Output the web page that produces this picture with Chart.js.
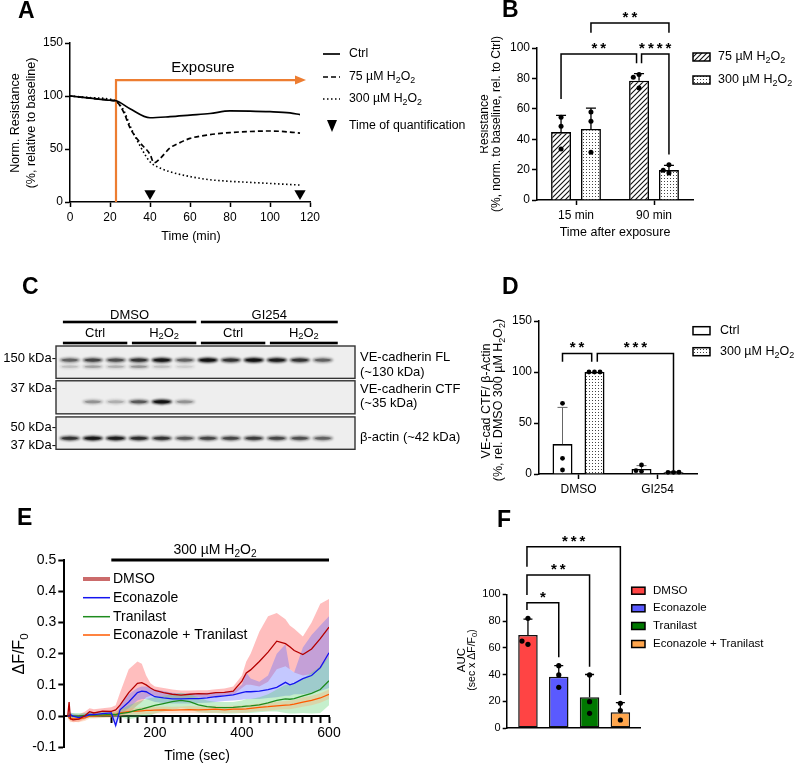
<!DOCTYPE html>
<html>
<head>
<meta charset="utf-8">
<script src="https://cdn.jsdelivr.net/npm/chart.js@4.4.0/dist/chart.umd.min.js"></script>
<style>
  body { margin: 0; background: #fff; }
  #fig { position: relative; width: 798px; height: 767px; overflow: hidden; background: #fff; }
  #fig canvas { position: absolute; }
</style>
</head>
<body>
<div id="fig">
  <canvas id="cA" width="480" height="245" style="left:0;top:0"></canvas>
  <canvas id="cB" width="318" height="245" style="left:480px;top:0"></canvas>
  <canvas id="cC" width="480" height="200" style="left:0;top:270px"></canvas>
  <canvas id="cD" width="318" height="230" style="left:480px;top:270px"></canvas>
  <canvas id="cE" width="400" height="267" style="left:0;top:500px"></canvas>
  <canvas id="cF" width="398" height="267" style="left:400px;top:500px"></canvas>
</div>
<script>
// ---------- data ----------
// A: resistance over time
const aCtrlTime = [0, 10, 20, 23, 30, 40, 50, 60, 70, 80, 90, 100, 110, 115];
const aCtrl = [100, 98, 96, 95.5, 88, 79.5, 80.5, 82, 83.5, 86, 85.8, 85.2, 84, 82.5];
const a75Time = [0, 10, 20, 23, 27, 30, 35, 40, 42, 45, 50, 55, 60, 70, 80, 90, 100, 110, 115];
const a75 = [100, 98, 96, 95, 84, 70, 56, 45, 37, 41, 51, 56, 60, 63.5, 65.5, 66.5, 67, 66, 65];
const a300Time = [0, 10, 20, 23, 27, 30, 35, 40, 45, 50, 60, 70, 80, 90, 100, 110, 115];
const a300 = [100, 98.5, 97, 95, 86, 72, 53, 38, 32, 28.5, 24, 21, 19.5, 18.5, 17.5, 16.5, 16];
const aQuantTimes = [40, 115];
const aExposureStart = 23;

// B: resistance after exposure
const bGroups = ['15 min', '90 min'];
const b75 = [44.7, 78.5];
const b300 = [46.7, 19.7];
const b75Sd = [11, 4.6];
const b300Sd = [13.8, 3.1];
const b75Pts = [[54.4, 48.5, 33.6], [82.5, 80.7, 73.7]];
const b300Pts = [[57.9, 51.8, 31.4], [23.2, 17.8, 19.5]];

// C: western blot band intensities per lane (0..1)
const cLanes = ['DMSO Ctrl 1', 'DMSO Ctrl 2', 'DMSO Ctrl 3', 'DMSO H2O2 1', 'DMSO H2O2 2', 'DMSO H2O2 3',
                'GI254 Ctrl 1', 'GI254 Ctrl 2', 'GI254 Ctrl 3', 'GI254 H2O2 1', 'GI254 H2O2 2', 'GI254 H2O2 3'];
const cFl = [0.5, 0.65, 0.6, 0.75, 0.95, 0.5, 1.0, 0.75, 1.0, 0.9, 0.75, 0.5];
const cFlLow = [0.15, 0.25, 0.2, 0.3, 0.15, 0.1, 0, 0, 0, 0, 0, 0];
const cCtf = [0, 0.3, 0.2, 0.55, 1.0, 0.3, 0, 0, 0, 0, 0, 0];
const cActin = [0.75, 0.95, 0.9, 0.8, 0.75, 0.55, 0.65, 0.65, 0.7, 0.65, 0.6, 0.5];

// D: VE-cad CTF / beta-actin
const dGroups = ['DMSO', 'GI254'];
const dCtrl = [29.3, 4.9];
const d300 = [100, 1.6];
const dCtrlSd = [36, 3.3];
const d300Sd = [0, 0.4];
const dCtrlPts = [[69.3, 15.4, 3.9], [8.8, 2.6, 3.3]];
const d300Pts = [[100, 100, 100], [1.6, 1.6, 1.8]];

// E: calcium traces (mean and band limits)
const eTime = [0, 3, 6, 12, 25, 40, 50, 60, 80, 100, 110, 120, 140, 160, 170, 180, 190, 200, 220, 240, 260, 280, 300, 320, 340, 360, 380, 400, 410, 420, 440, 460, 480, 500, 510, 520, 540, 560, 580, 600];
const eDmso = [0.000, 0.045, -0.008, -0.012, -0.010, 0.002, 0.014, 0.010, 0.016, 0.015, 0.020, 0.035, 0.075, 0.105, 0.107, 0.100, 0.090, 0.082, 0.075, 0.070, 0.067, 0.070, 0.072, 0.071, 0.075, 0.076, 0.080, 0.112, 0.138, 0.148, 0.175, 0.205, 0.240, 0.232, 0.222, 0.210, 0.197, 0.215, 0.248, 0.285];
const eDmsoHi = [0.010, 0.050, 0.000, 0.005, 0.005, 0.015, 0.025, 0.022, 0.025, 0.028, 0.035, 0.075, 0.150, 0.175, 0.168, 0.130, 0.105, 0.095, 0.090, 0.085, 0.082, 0.082, 0.083, 0.083, 0.086, 0.088, 0.095, 0.130, 0.175, 0.200, 0.270, 0.320, 0.330, 0.310, 0.290, 0.280, 0.255, 0.300, 0.360, 0.375];
const eDmsoLo = [-0.010, 0.035, -0.015, -0.020, -0.018, -0.010, 0.000, 0.000, 0.005, 0.005, 0.005, 0.000, 0.010, 0.035, 0.045, 0.060, 0.065, 0.065, 0.060, 0.058, 0.056, 0.058, 0.060, 0.060, 0.062, 0.065, 0.068, 0.090, 0.100, 0.100, 0.095, 0.110, 0.150, 0.160, 0.150, 0.140, 0.130, 0.135, 0.150, 0.190];
const eEcon = [0.000, 0.000, 0.005, 0.000, -0.005, 0.000, 0.005, 0.005, 0.008, 0.010, -0.030, 0.020, 0.045, 0.075, 0.080, 0.078, 0.070, 0.062, 0.058, 0.055, 0.055, 0.056, 0.056, 0.058, 0.062, 0.065, 0.068, 0.075, 0.078, 0.078, 0.080, 0.085, 0.092, 0.108, 0.100, 0.105, 0.120, 0.130, 0.155, 0.203];
const eEconHi = [0.008, 0.008, 0.012, 0.008, 0.004, 0.008, 0.012, 0.012, 0.015, 0.015, 0.000, 0.035, 0.070, 0.090, 0.095, 0.095, 0.090, 0.085, 0.080, 0.075, 0.072, 0.072, 0.072, 0.075, 0.075, 0.078, 0.080, 0.100, 0.140, 0.120, 0.110, 0.130, 0.200, 0.230, 0.150, 0.140, 0.220, 0.260, 0.290, 0.320];
const eEconLo = [-0.008, -0.008, -0.004, -0.008, -0.012, -0.008, -0.003, -0.003, 0.000, 0.002, -0.040, 0.005, 0.025, 0.050, 0.055, 0.055, 0.050, 0.045, 0.042, 0.040, 0.040, 0.040, 0.042, 0.043, 0.045, 0.048, 0.050, 0.052, 0.055, 0.055, 0.055, 0.058, 0.060, 0.065, 0.065, 0.070, 0.070, 0.075, 0.080, 0.090];
const eTran = [0.000, 0.002, 0.002, 0.000, 0.000, 0.002, 0.003, 0.003, 0.004, 0.005, 0.005, 0.008, 0.012, 0.020, 0.022, 0.026, 0.030, 0.034, 0.040, 0.046, 0.050, 0.046, 0.036, 0.030, 0.028, 0.027, 0.028, 0.030, 0.032, 0.033, 0.036, 0.042, 0.050, 0.055, 0.054, 0.056, 0.065, 0.073, 0.085, 0.113];
const eTranHi = [0.010, 0.010, 0.010, 0.010, 0.010, 0.010, 0.012, 0.012, 0.012, 0.012, 0.015, 0.020, 0.035, 0.045, 0.050, 0.055, 0.058, 0.060, 0.065, 0.070, 0.075, 0.070, 0.060, 0.050, 0.045, 0.045, 0.045, 0.050, 0.055, 0.055, 0.060, 0.070, 0.085, 0.100, 0.100, 0.105, 0.120, 0.140, 0.160, 0.190];
const eTranLo = [-0.010, -0.008, -0.008, -0.010, -0.010, -0.008, -0.006, -0.006, -0.004, -0.002, -0.003, -0.004, -0.010, -0.005, 0.000, 0.000, 0.002, 0.008, 0.015, 0.020, 0.025, 0.022, 0.012, 0.010, 0.010, 0.008, 0.008, 0.010, 0.010, 0.010, 0.012, 0.015, 0.015, 0.010, 0.008, 0.008, 0.010, 0.008, 0.010, 0.035];
const eComb = [0.000, -0.005, -0.010, -0.008, -0.010, -0.005, 0.000, 0.000, 0.002, 0.003, 0.005, 0.010, 0.014, 0.016, 0.017, 0.018, 0.018, 0.019, 0.020, 0.019, 0.020, 0.021, 0.020, 0.021, 0.022, 0.020, 0.022, 0.022, 0.023, 0.025, 0.028, 0.030, 0.033, 0.035, 0.036, 0.038, 0.045, 0.050, 0.058, 0.070];
const eCombHi = [0.008, 0.005, 0.002, 0.003, 0.002, 0.005, 0.008, 0.008, 0.010, 0.012, 0.015, 0.020, 0.024, 0.027, 0.028, 0.029, 0.029, 0.030, 0.031, 0.030, 0.031, 0.032, 0.031, 0.032, 0.033, 0.031, 0.033, 0.034, 0.035, 0.037, 0.040, 0.043, 0.046, 0.048, 0.050, 0.052, 0.060, 0.065, 0.073, 0.085];
const eCombLo = [-0.008, -0.015, -0.020, -0.018, -0.020, -0.015, -0.008, -0.008, -0.006, -0.005, -0.004, 0.000, 0.004, 0.005, 0.006, 0.007, 0.007, 0.008, 0.009, 0.008, 0.009, 0.010, 0.009, 0.010, 0.011, 0.009, 0.011, 0.010, 0.011, 0.013, 0.016, 0.017, 0.020, 0.022, 0.022, 0.024, 0.030, 0.035, 0.043, 0.055];
const eTickTimes = [100, 120, 140, 160, 180, 200, 220, 240, 260, 280, 300, 320, 340, 360, 380, 400, 420, 440, 460, 480, 500, 520, 540, 560, 580, 600];
const eLabelTimes = [200, 400, 600];
const eExposureStart = 100;

// F: AUC
const fGroups = ['DMSO', 'Econazole', 'Tranilast', 'Econazole + Tranilast'];
const fAuc = [69.6, 38.4, 23, 11.7];
const fSd = [11.9, 8.2, 17, 7.3];
const fPts = [[82, 62.6, 65], [46.6, 39.7, 30.4], [39.7, 19.7, 11], [18.5, 13, 6]];

// ---------- helpers ----------
const FONT = "'Liberation Sans', Arial, Helvetica, sans-serif";
const ORANGE = '#ed7d31';
Chart.defaults.font.family = FONT;
Chart.defaults.color = '#000';

const zip = (xs, ys) => xs.map((x, i) => ({x, y: ys[i]}));
const fixW = w => s => { s.width = w; };
const fixH = h => s => { s.height = h; };

// drop undefined keys so they don't override Chart.js defaults
function clean(o) {
  Object.keys(o).forEach(k => {
    if (o[k] === undefined) delete o[k];
    else if (o[k] && typeof o[k] === 'object' && o[k].constructor === Object) clean(o[k]);
  });
  return o;
}

// text with single-character subscripts written as _2
function rich(ctx, str, x, y, size, o = {}) {
  const wt = o.bold ? 'bold ' : '';
  const parts = [];
  for (let i = 0; i < str.length;) {
    if (str[i] === '_') { parts.push({t: str[i + 1], s: true}); i += 2; }
    else { let j = i; while (j < str.length && str[j] !== '_') j++; parts.push({t: str.slice(i, j), s: false}); i = j; }
  }
  let w = 0;
  parts.forEach(p => { ctx.font = wt + (p.s ? size * 0.72 : size) + 'px ' + FONT; p.w = ctx.measureText(p.t).width; w += p.w; });
  let cx = o.align === 'center' ? x - w / 2 : o.align === 'right' ? x - w : x;
  ctx.save();
  ctx.fillStyle = o.color || '#000';
  ctx.textAlign = 'left';
  ctx.textBaseline = 'middle';
  parts.forEach(p => {
    ctx.font = wt + (p.s ? size * 0.72 : size) + 'px ' + FONT;
    ctx.fillText(p.t, cx, p.s ? y + size * 0.3 : y);
    cx += p.w;
  });
  ctx.restore();
}
function vrich(ctx, str, x, y, size, o = {}) {
  ctx.save();
  ctx.translate(x, y);
  ctx.rotate(-Math.PI / 2);
  rich(ctx, str, 0, 0, size, Object.assign({align: 'center'}, o));
  ctx.restore();
}

function axisOpts(o) {
  return clean({
    type: o.type,
    min: o.min, max: o.max,
    offset: o.offset,
    position: o.position,
    afterFit: o.afterFit,
    afterBuildTicks: o.afterBuildTicks,
    border: {color: '#000', width: o.bw || 1.5},
    grid: {display: o.grid !== false, drawOnChartArea: false, offset: false, tickLength: o.tl || 5,
           tickWidth: o.bw || 1.5, tickColor: '#000', color: '#000'},
    ticks: {display: o.ticks !== false, color: '#000', font: {size: o.fs || 12}, padding: o.pad === undefined ? 3 : o.pad,
            stepSize: o.step, autoSkip: false, maxRotation: 0, minRotation: 0, callback: o.cb}
  });
}

function hatchPattern(ctx) {
  const c = document.createElement('canvas');
  c.width = 5; c.height = 5;
  const g = c.getContext('2d');
  g.fillStyle = '#fff'; g.fillRect(0, 0, 5, 5);
  g.strokeStyle = '#111'; g.lineWidth = 1.1;
  g.beginPath();
  g.moveTo(-1, 6); g.lineTo(6, -1);
  g.moveTo(-1, 1); g.lineTo(1, -1);
  g.moveTo(4, 6); g.lineTo(6, 4);
  g.stroke();
  return ctx.createPattern(c, 'repeat');
}
function dotPattern(ctx) {
  const c = document.createElement('canvas');
  c.width = 3; c.height = 3;
  const g = c.getContext('2d');
  g.fillStyle = '#fff'; g.fillRect(0, 0, 3, 3);
  g.fillStyle = '#444'; g.fillRect(1, 1, 1, 1);
  return ctx.createPattern(c, 'repeat');
}

// error bars (upward SD) and individual points
function errPlugin(o) {
  return {
    id: 'errdots',
    afterDatasetsDraw(chart) {
      const {ctx} = chart, y = chart.scales.y;
      chart.data.datasets.forEach((ds, di) => {
        if (!ds.sd) return;
        const meta = chart.getDatasetMeta(di);
        meta.data.forEach((bar, i) => {
          const m = meta.controller.getParsed(i).y;
          const x = bar.x, ym = y.getPixelForValue(m), ye = y.getPixelForValue(m + ds.sd[i]);
          ctx.save();
          ctx.strokeStyle = ds.errColor || '#000';
          ctx.lineWidth = ds.errWidth || o.lw;
          if (ds.sd[i] > 0) {
            ctx.beginPath();
            ctx.moveTo(x, ym); ctx.lineTo(x, ye);
            ctx.moveTo(x - o.cap / 2, ye); ctx.lineTo(x + o.cap / 2, ye);
            ctx.stroke();
          }
          ctx.fillStyle = '#000';
          const placed = [];
          ds.pts[i].forEach(v => {
            const py = y.getPixelForValue(v);
            let dx = 0;
            for (const k of [0, -1, 1, -2, 2]) {
              dx = k * o.r * 2.3;
              if (placed.every(p => Math.hypot(p[0] - dx, p[1] - py) >= o.r * 2)) break;
            }
            placed.push([dx, py]);
            ctx.beginPath(); ctx.arc(x + dx, py, o.r, 0, Math.PI * 2); ctx.fill();
          });
          ctx.restore();
        });
      });
    }
  };
}

// significance brackets
function bracketPlugin(items, size) {
  return {
    id: 'brackets',
    afterDraw(chart) {
      const {ctx} = chart, y = chart.scales.y;
      const px = ([di, i, sh]) => chart.getDatasetMeta(di).data[i].x + (sh || 0);
      ctx.save();
      ctx.strokeStyle = '#000'; ctx.lineWidth = 1.5; ctx.lineJoin = 'miter';
      items.forEach(b => {
        const xa = px(b.a), xb = px(b.b), yl = y.getPixelForValue(b.level);
        ctx.beginPath();
        ctx.moveTo(xa, y.getPixelForValue(b.legs[0]));
        ctx.lineTo(xa, yl); ctx.lineTo(xb, yl);
        ctx.lineTo(xb, y.getPixelForValue(b.legs[1]));
        ctx.stroke();
        ctx.font = 'bold ' + size + 'px ' + FONT;
        ctx.letterSpacing = '3px';
        ctx.textAlign = 'center'; ctx.textBaseline = 'alphabetic'; ctx.fillStyle = '#000';
        ctx.fillText(b.label, (xa + xb) / 2 + 1.5, yl - 1);
        ctx.letterSpacing = '0px';
      });
      ctx.restore();
    }
  };
}

function legendBox(ctx, x, y, w, h, fill) {
  ctx.save();
  ctx.fillStyle = fill;
  ctx.fillRect(x, y - h / 2, w, h);
  ctx.strokeStyle = '#000'; ctx.lineWidth = 1.5;
  ctx.strokeRect(x, y - h / 2, w, h);
  ctx.restore();
}

const base = {responsive: false, animation: false, events: [],
  plugins: {legend: {display: false}, tooltip: {enabled: false}}};

// ---------- A ----------
new Chart(document.getElementById('cA'), {
  type: 'line',
  data: {datasets: [
    {label: 'Ctrl', data: zip(aCtrlTime, aCtrl), borderColor: '#000', borderWidth: 1.7, pointRadius: 0, cubicInterpolationMode: 'monotone', fill: false},
    {label: '75 µM H_2O_2', data: zip(a75Time, a75), borderColor: '#000', borderWidth: 1.7, borderDash: [5, 3], pointRadius: 0, cubicInterpolationMode: 'monotone', fill: false},
    {label: '300 µM H_2O_2', data: zip(a300Time, a300), borderColor: '#000', borderWidth: 1.6, borderDash: [1.5, 2.5], pointRadius: 0, cubicInterpolationMode: 'monotone', fill: false},
    {label: 'Time of quantification', data: aQuantTimes.map(t => ({x: t, y: 8})), showLine: false, pointStyle: 'triangle', rotation: 180,
     pointRadius: 6.5, pointBackgroundColor: '#000', pointBorderColor: '#000', pointBorderWidth: 0, borderColor: '#000', backgroundColor: '#000'}
  ]},
  options: Object.assign({}, base, {
    layout: {padding: {left: 0, top: 43, right: 170, bottom: 0}},
    scales: {
      x: axisOpts({type: 'linear', min: 0, max: 120, step: 20, afterFit: fixH(43), pad: 3}),
      y: axisOpts({type: 'linear', min: 0, max: 150, step: 50, afterFit: fixW(70), pad: 2})
    }
  }),
  plugins: [{
    id: 'aDeco',
    beforeDatasetsDraw(chart) {
      const {ctx, scales: {x, y}} = chart;
      const x0 = x.getPixelForValue(aExposureStart), y0 = y.getPixelForValue(0);
      const y1 = y.getPixelForValue(115), x1 = x.getPixelForValue(116.5);
      ctx.save();
      ctx.strokeStyle = ORANGE; ctx.lineWidth = 2.2;
      ctx.beginPath(); ctx.moveTo(x0, y0); ctx.lineTo(x0, y1); ctx.lineTo(x1 - 6, y1); ctx.stroke();
      ctx.fillStyle = ORANGE;
      ctx.beginPath(); ctx.moveTo(x1 + 3, y1); ctx.lineTo(x1 - 8, y1 - 4.5); ctx.lineTo(x1 - 8, y1 + 4.5); ctx.closePath(); ctx.fill();
      ctx.restore();
      rich(ctx, 'Exposure', x.getPixelForValue(66.5), y1 - 12, 15, {align: 'center'});
    },
    afterDraw(chart) {
      const {ctx} = chart;
      const rows = [54, 77, 99, 126];
      chart.data.datasets.forEach((ds, i) => {
        ctx.save();
        if (i < 3) {
          ctx.strokeStyle = '#000'; ctx.lineWidth = ds.borderWidth;
          ctx.setLineDash(ds.borderDash || []);
          ctx.beginPath(); ctx.moveTo(323, rows[i]); ctx.lineTo(340, rows[i]); ctx.stroke();
        } else {
          ctx.fillStyle = '#000';
          ctx.beginPath(); ctx.moveTo(327, rows[i] - 6); ctx.lineTo(337, rows[i] - 6); ctx.lineTo(332, rows[i] + 6); ctx.closePath(); ctx.fill();
        }
        ctx.restore();
        rich(ctx, ds.label, 349, rows[i], 12.3);
      });
      vrich(ctx, 'Norm. Resistance', 15.5, 123, 12.5);
      vrich(ctx, '(%, relative to baseline)', 31.5, 123, 12.5);
      rich(ctx, 'Time (min)', 191, 237, 12.5, {align: 'center'});
      rich(ctx, 'A', 18, 12, 23, {bold: true});
    }
  }]
});

// ---------- B ----------
const ctxB = document.getElementById('cB').getContext('2d');
const hatchB = hatchPattern(ctxB), dotsB = dotPattern(ctxB);
new Chart(ctxB, {
  type: 'bar',
  data: {labels: bGroups, datasets: [
    {label: '75 µM H_2O_2', data: b75, sd: b75Sd, pts: b75Pts, backgroundColor: hatchB, borderColor: '#000', borderWidth: 1.6,
     categoryPercentage: 0.767, barPercentage: 0.667},
    {label: '300 µM H_2O_2', data: b300, sd: b300Sd, pts: b300Pts, backgroundColor: dotsB, borderColor: '#000', borderWidth: 1.6,
     categoryPercentage: 0.767, barPercentage: 0.667}
  ]},
  options: Object.assign({}, base, {
    layout: {padding: {left: 0, top: 48, right: 105, bottom: 0}},
    scales: {
      x: axisOpts({type: 'category', offset: true, afterFit: fixH(45), pad: 3}),
      y: axisOpts({type: 'linear', min: 0, max: 100, step: 20, afterFit: fixW(57), pad: 2})
    }
  }),
  plugins: [
    errPlugin({cap: 10, r: 2.5, lw: 1.3}),
    bracketPlugin([
      {a: [0, 0, 0], b: [0, 1, -2.5], level: 96, legs: [66.5, 90], label: '**'},
      {a: [0, 1, 2.5], b: [1, 1, 0], level: 96, legs: [90, 30], label: '****'},
      {a: [1, 0, 0], b: [1, 1, 0], level: 116.5, legs: [110, 110], label: '**'}
    ], 15),
    {
      id: 'bDeco',
      afterDraw(chart) {
        const {ctx} = chart;
        chart.data.datasets.forEach((ds, i) => {
          const yy = [57, 80][i];
          legendBox(ctx, 213, yy, 17, 8, ds.backgroundColor);
          rich(ctx, ds.label, 238, yy, 12.5);
        });
        vrich(ctx, 'Resistance', 5, 124, 12);
        vrich(ctx, '(%, norm. to baseline, rel. to Ctrl)', 16.5, 124, 12);
        rich(ctx, 'Time after exposure', 135, 233, 12.5, {align: 'center'});
        rich(ctx, 'B', 22, 11, 23, {bold: true});
      }
    }
  ]
});

// ---------- C (blot) ----------
const blotBoxes = [[0, 0.94], [1.01, 1.97], [2.06, 3.0]];
const cHeaders = [
  {label: 'DMSO', from: 0, to: 5, row: 0}, {label: 'GI254', from: 6, to: 11, row: 0},
  {label: 'Ctrl', from: 0, to: 2, row: 1}, {label: 'H_2O_2', from: 3, to: 5, row: 1},
  {label: 'Ctrl', from: 6, to: 8, row: 1}, {label: 'H_2O_2', from: 9, to: 11, row: 1}
];
const bandSet = (label, vals, row, h) => ({label, data: vals.map((v, i) => ({x: i, y: row, v})), pointRadius: 0, showLine: false, bandH: h});
new Chart(document.getElementById('cC'), {
  type: 'scatter',
  data: {labels: cLanes, datasets: [
    bandSet('VE-cadherin FL', cFl, 0.41, 2.6),
    bandSet('VE-cadherin FL lower', cFlLow, 0.6, 2.2),
    bandSet('VE-cadherin CTF', cCtf, 1.62, 2.6),
    bandSet('β-actin', cActin, 2.68, 2.6)
  ]},
  options: Object.assign({}, base, {
    layout: {padding: {left: 56, top: 76, right: 125, bottom: 20.7}},
    scales: {
      x: {type: 'linear', min: -0.6, max: 12.4, display: false},
      y: {type: 'linear', min: 0, max: 3, reverse: true, display: false}
    }
  }),
  plugins: [{
    id: 'blot',
    beforeDatasetsDraw(chart) {
      const {ctx, chartArea: ca, scales: {x, y}} = chart;
      blotBoxes.forEach(([a, b]) => {
        const t = y.getPixelForValue(a), bt = y.getPixelForValue(b);
        ctx.fillStyle = '#eeeeee';
        ctx.fillRect(ca.left, t, ca.right - ca.left, bt - t);
      });
      chart.data.datasets.forEach((ds, di) => {
        const meta = chart.getDatasetMeta(di);
        meta.data.forEach((el, i) => {
          const v = ds.data[i].v;
          if (!v) return;
          ctx.save();
          ctx.filter = 'blur(1.3px)';
          ctx.fillStyle = 'rgba(15,15,15,' + (0.9 * v).toFixed(3) + ')';
          ctx.beginPath(); ctx.ellipse(el.x, el.y, 10.5, ds.bandH, 0, 0, Math.PI * 2); ctx.fill();
          ctx.filter = 'blur(0.6px)';
          ctx.fillStyle = 'rgba(0,0,0,' + (0.6 * v).toFixed(3) + ')';
          ctx.beginPath(); ctx.ellipse(el.x, el.y, 8, ds.bandH * 0.6, 0, 0, Math.PI * 2); ctx.fill();
          ctx.restore();
        });
      });
      blotBoxes.forEach(([a, b]) => {
        const t = y.getPixelForValue(a), bt = y.getPixelForValue(b);
        ctx.strokeStyle = '#333'; ctx.lineWidth = 1.4;
        ctx.strokeRect(ca.left, t, ca.right - ca.left, bt - t);
      });
    },
    afterDraw(chart) {
      const {ctx, scales: {x}} = chart;
      cHeaders.forEach(h => {
        const x1 = x.getPixelForValue(h.from - 0.3), x2 = x.getPixelForValue(h.to + (h.to === 5 || h.to === 2 || h.to === 8 ? 0.5 : 0.65));
        const ly = h.row === 0 ? 52 : 73, ty = h.row === 0 ? 45 : 63;
        ctx.fillStyle = '#000';
        ctx.fillRect(x1, ly - 1.3, x2 - x1, 2.6);
        rich(ctx, h.label, (x1 + x2) / 2, ty, 13, {align: 'center'});
      });
      [['150 kDa-', 88], ['37 kDa-', 118], ['50 kDa-', 157], ['37 kDa-', 175]].forEach(([t, yy]) => rich(ctx, t, 56, yy, 13, {align: 'right'}));
      [['VE-cadherin FL', 87], ['(~130 kDa)', 102], ['VE-cadherin CTF', 119], ['(~35 kDa)', 133], ['β-actin (~42 kDa)', 167]]
        .forEach(([t, yy]) => rich(ctx, t, 360, yy, 13));
      rich(ctx, 'C', 22, 18, 23, {bold: true});
    }
  }]
});

// ---------- D ----------
const ctxD = document.getElementById('cD').getContext('2d');
const dotsD = dotPattern(ctxD);
new Chart(ctxD, {
  type: 'bar',
  data: {labels: dGroups, datasets: [
    {label: 'Ctrl', data: dCtrl, sd: dCtrlSd, pts: dCtrlPts, errColor: '#666', errWidth: 1, backgroundColor: '#fff', borderColor: '#000', borderWidth: 1.6,
     categoryPercentage: 0.81, barPercentage: 0.625},
    {label: '300 µM H_2O_2', data: d300, sd: d300Sd, pts: d300Pts, backgroundColor: dotsD, borderColor: '#000', borderWidth: 1.6,
     categoryPercentage: 0.81, barPercentage: 0.625}
  ]},
  options: Object.assign({}, base, {
    layout: {padding: {left: 0, top: 51, right: 101, bottom: 0}},
    scales: {
      x: axisOpts({type: 'category', offset: true, afterFit: fixH(26), pad: 3}),
      y: axisOpts({type: 'linear', min: 0, max: 150, step: 50, afterFit: fixW(59), pad: 2, fs: 12})
    }
  }),
  plugins: [
    errPlugin({cap: 10, r: 2.4, lw: 1.3}),
    bracketPlugin([
      {a: [0, 0, 0], b: [1, 0, -2.8], level: 118.2, legs: [110, 110], label: '**'},
      {a: [1, 0, 2.8], b: [1, 1, 0], level: 118.2, legs: [110, 4], label: '***'}
    ], 15),
    {
      id: 'dDeco',
      afterDraw(chart) {
        const {ctx} = chart;
        chart.data.datasets.forEach((ds, i) => {
          const yy = [60.7, 81.7][i];
          legendBox(ctx, 213, yy, 17, 8, ds.backgroundColor);
          rich(ctx, ds.label, 240, yy, 12.5);
        });
        vrich(ctx, 'VE-cad CTF/ β-Actin', 6.5, 131, 12.5);
        vrich(ctx, '(%, rel. DMSO 300 µM H_2O_2)', 19, 130, 12.5);
        rich(ctx, 'D', 22, 18, 23, {bold: true});
      }
    }
  ]
});

// ---------- E ----------
const eSeries = [
  {label: 'DMSO', mean: eDmso, hi: eDmsoHi, lo: eDmsoLo, line: '#b40000', band: 'rgba(255,100,100,0.42)', legend: 'rgba(190,70,70,0.8)', lw: 4},
  {label: 'Econazole', mean: eEcon, hi: eEconHi, lo: eEconLo, line: '#1414f0', band: 'rgba(100,110,255,0.38)', legend: '#1414f0', lw: 1.5},
  {label: 'Tranilast', mean: eTran, hi: eTranHi, lo: eTranLo, line: '#1e8c1e', band: 'rgba(90,210,110,0.35)', legend: '#1e8c1e', lw: 1.5},
  {label: 'Econazole + Tranilast', mean: eComb, hi: eCombHi, lo: eCombLo, line: '#ff5a00', band: 'rgba(255,170,110,0.35)', legend: '#ff5a00', lw: 1.5}
];
const eDatasets = [];
eSeries.forEach((s, k) => {
  eDatasets.push({label: s.label + ' upper', data: zip(eTime, s.hi), fill: '+1', backgroundColor: s.band, borderWidth: 0, pointRadius: 0, order: 10 - k});
  eDatasets.push({label: s.label + ' lower', data: zip(eTime, s.lo), fill: false, borderWidth: 0, pointRadius: 0, order: 10 - k});
});
eSeries.forEach(s => {
  eDatasets.push({label: s.label, data: zip(eTime, s.mean), fill: false, borderColor: s.line, borderWidth: 1.3, pointRadius: 0, order: 0});
});
new Chart(document.getElementById('cE'), {
  type: 'line',
  data: {datasets: eDatasets},
  options: Object.assign({}, base, {
    layout: {padding: {left: 0, top: 60, right: 71, bottom: 19.7}},
    scales: {
      x: axisOpts({type: 'linear', min: -8, max: 600, position: {y: 0}, bw: 2, tl: 6, fs: 14, pad: 3,
        afterBuildTicks: s => { s.ticks = eTickTimes.map(v => ({value: v})); },
        cb: v => eLabelTimes.includes(v) ? String(v) : ''}),
      y: axisOpts({type: 'linear', min: -0.1, max: 0.5, step: 0.1, bw: 2, tl: 6, fs: 14, pad: 2, afterFit: fixW(64.3),
        cb: v => Math.abs(v) < 1e-9 ? '0.0' : v.toFixed(1)})
    }
  }),
  plugins: [{
    id: 'eDeco',
    afterDraw(chart) {
      const {ctx, scales: {x, y}} = chart;
      const yb = y.getPixelForValue(0.5), xb1 = x.getPixelForValue(eExposureStart), xb2 = x.getPixelForValue(600);
      ctx.fillStyle = '#000';
      ctx.fillRect(xb1, yb - 1.5, xb2 - xb1, 3);
      rich(ctx, '300 µM H_2O_2', 215, 50, 14, {align: 'center'});
      const rows = [79, 97.7, 116.7, 135];
      eSeries.forEach((s, i) => {
        ctx.save();
        ctx.strokeStyle = s.legend; ctx.lineWidth = s.lw;
        ctx.beginPath(); ctx.moveTo(83, rows[i]); ctx.lineTo(110, rows[i]); ctx.stroke();
        ctx.restore();
        rich(ctx, s.label, 113, rows[i], 14);
      });
      vrich(ctx, 'ΔF/F_0', 20, 154, 16);
      rich(ctx, 'Time (sec)', 197, 256.5, 14, {align: 'center'});
      rich(ctx, 'E', 17, 19, 23, {bold: true});
    }
  }]
});

// ---------- F ----------
const fColors = ['#ff4444', '#5a5aff', '#007800', '#ffa64d'];
new Chart(document.getElementById('cF'), {
  type: 'bar',
  data: {labels: fGroups, datasets: [
    {label: 'AUC', data: fAuc.map((v, i) => ({x: i, y: v})), sd: fSd, pts: fPts, backgroundColor: fColors, borderColor: '#111', borderWidth: 1.5,
     borderSkipped: false, categoryPercentage: 1, barPercentage: 0.633}
  ]},
  options: Object.assign({}, base, {
    layout: {padding: {left: 0, top: 94.3, right: 157.3, bottom: 0}},
    scales: {
      x: axisOpts({type: 'linear', min: -0.69, max: 3.66, offset: false, grid: false, ticks: false, afterFit: fixH(39)}),
      y: axisOpts({type: 'linear', min: 0, max: 100, step: 20, afterFit: fixW(106.7), fs: 11, pad: 2, tl: 4})
    }
  }),
  plugins: [
    errPlugin({cap: 9, r: 2.6, lw: 1.3}),
    bracketPlugin([
      {a: [0, 0, -1], b: [0, 1, 0], level: 93.7, legs: [88.2, 52.9], label: '*'},
      {a: [0, 0, -1], b: [0, 2, 0], level: 114.4, legs: [99.5, 45.8], label: '**'},
      {a: [0, 0, -1], b: [0, 3, 0], level: 135.6, legs: [120.6, 24.7], label: '***'}
    ], 15),
    {
      id: 'fDeco',
      afterDraw(chart) {
        const {ctx} = chart;
        const rows = [90.7, 108.3, 126, 144];
        fGroups.forEach((g, i) => {
          legendBox(ctx, 231.7, rows[i], 13.3, 7, fColors[i]);
          rich(ctx, g, 253, rows[i], 11.5);
        });
        vrich(ctx, 'AUC', 61.5, 160, 11.5);
        vrich(ctx, '(sec x ΔF/F_0)', 72, 160, 10.5);
        rich(ctx, 'F', 97, 21, 23, {bold: true});
      }
    }
  ]
});
</script>
</body>
</html>
